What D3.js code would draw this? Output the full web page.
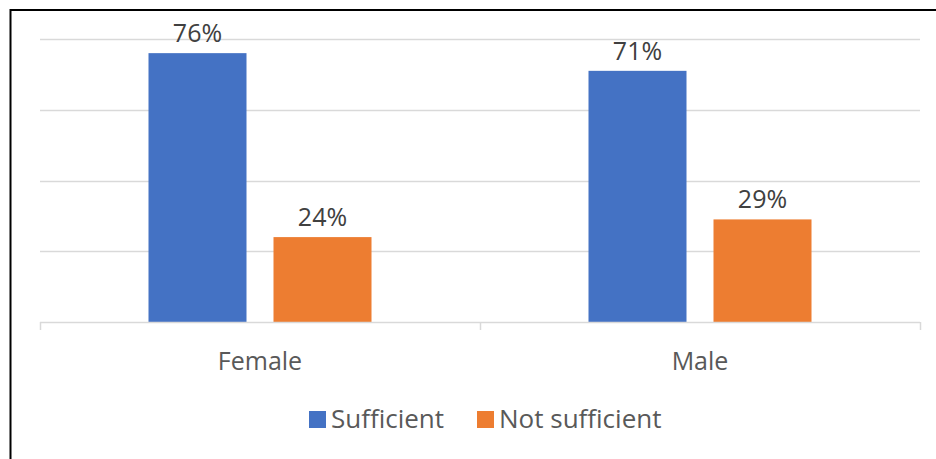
<!DOCTYPE html>
<html>
<head>
<meta charset="utf-8">
<script src="https://cdn.jsdelivr.net/npm/d3@7"></script>
<style>
  html, body { margin: 0; padding: 0; background: #fff; }
  svg { display: block; font-family: "Open Sans", "Noto Sans", sans-serif; }
</style>
</head>
<body>
<svg id="chart" width="936" height="459"></svg>
<script>
// Share of respondents by gender
const categories = ["Female", "Male"];
const seriesNames = ["Sufficient", "Not sufficient"];
const sufficient = [76, 71];
const notSufficient = [24, 29];
const yTicks = [0, 20, 40, 60, 80];
const colors = ["#4472C4", "#ED7D31"];

const svg = d3.select("#chart");
const W = 936, H = 459;
const margin = { left: 40, right: 16, top: 39, bottom: 137 };
const plotW = W - margin.left - margin.right;
const plotH = H - margin.top - margin.bottom;

// Frame lines on the left and top
svg.append("line").attr("x1", 10.5).attr("x2", 10.5).attr("y1", 9).attr("y2", H)
  .attr("stroke", "#000").attr("stroke-width", 2);
svg.append("line").attr("x1", 10).attr("x2", W).attr("y1", 10).attr("y2", 10)
  .attr("stroke", "#000").attr("stroke-width", 2);

const g = svg.append("g").attr("transform", `translate(${margin.left},${margin.top})`);

const x0 = d3.scaleBand().domain(categories).range([0, plotW]);
const x1 = d3.scaleBand().domain(seriesNames).range([0, x0.bandwidth()]).paddingInner(0.216).paddingOuter(0.868);
const y = d3.scaleLinear().domain([0, 80]).range([plotH, 0]);

// Horizontal gridlines
g.append("g").selectAll("line").data(yTicks.filter(d => d > 0)).join("line")
  .attr("x1", 0).attr("x2", plotW)
  .attr("y1", d => Math.round(y(d)) + 0.5).attr("y2", d => Math.round(y(d)) + 0.5)
  .attr("stroke", "#d9d9d9").attr("stroke-width", 1.5);

const rows = categories.map((c, i) => ({ cat: c, vals: [sufficient[i], notSufficient[i]] }));

const groups = g.selectAll(".grp").data(rows).join("g")
  .attr("transform", d => `translate(${x0(d.cat)},0)`);

groups.selectAll("rect").data(d => d.vals.map((v, j) => ({ v, s: seriesNames[j], j }))).join("rect")
  .attr("x", d => x1(d.s)).attr("width", x1.bandwidth())
  .attr("y", d => y(d.v)).attr("height", d => plotH - y(d.v))
  .attr("fill", d => colors[d.j]);

groups.selectAll("text.val").data(d => d.vals.map((v, j) => ({ v, s: seriesNames[j], j }))).join("text")
  .attr("class", "val")
  .attr("x", d => x1(d.s) + x1.bandwidth() / 2)
  .attr("y", d => y(d.v) - 11)
  .attr("text-anchor", "middle")
  .attr("font-size", 25).attr("fill", "#404040")
  .text(d => d.v + "%");

// Category axis
const xAxis = g.append("g").attr("transform", `translate(0,${plotH})`);
xAxis.append("line").attr("x1", 0).attr("x2", plotW).attr("y1", 0.5).attr("y2", 0.5)
  .attr("stroke", "#d9d9d9").attr("stroke-width", 1.5);
const tickPos = [0, ...categories.map(c => x0(c) + x0.bandwidth())];
xAxis.selectAll(".tk").data(tickPos).join("line")
  .attr("x1", d => d + 0.5).attr("x2", d => d + 0.5).attr("y1", 0).attr("y2", 8)
  .attr("stroke", "#d9d9d9").attr("stroke-width", 1.5);
xAxis.selectAll(".cl").data(categories).join("text")
  .attr("x", c => x0(c) + x0.bandwidth() / 2).attr("y", 48)
  .attr("text-anchor", "middle").attr("font-size", 25).attr("fill", "#595959")
  .text(c => c);

// Legend
const legend = svg.append("g");
const legendItems = [{ name: seriesNames[0], x: 309 }, { name: seriesNames[1], x: 477 }];
legendItems.forEach((d, i) => {
  legend.append("rect").attr("x", d.x).attr("y", 411).attr("width", 17).attr("height", 17).attr("fill", colors[i]);
  legend.append("text").attr("x", d.x + 22).attr("y", 428).attr("font-size", 26).attr("fill", "#595959").text(d.name);
});
</script>
</body>
</html>
